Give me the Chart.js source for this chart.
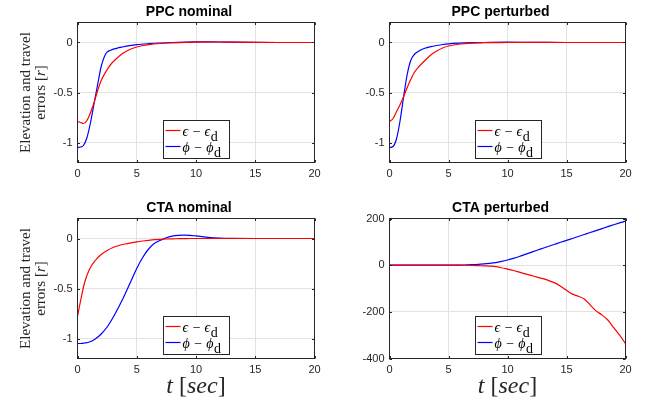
<!DOCTYPE html>
<html>
<head>
<meta charset="utf-8">
<script src="https://cdn.jsdelivr.net/npm/chart.js@4.4.1/dist/chart.umd.min.js"></script>
<style>
  html, body { margin: 0; padding: 0; background: #fff; }
  #wrap { position: relative; width: 647px; height: 405px; overflow: hidden; }
  #wrap canvas { position: absolute; left: 0; top: 0; }
</style>
</head>
<body>
<div id="wrap">
  <canvas id="ppcNom" width="647" height="405"></canvas>
  <canvas id="ppcPert" width="647" height="405"></canvas>
  <canvas id="ctaNom" width="647" height="405"></canvas>
  <canvas id="ctaPert" width="647" height="405"></canvas>
</div>
<script>
// tick values
const xTicks = [0, 5, 10, 15, 20];
const smallTicks = [-1, -0.5, 0];
const bigTicks = [-400, -200, 0, 200];

// PPC nominal
const tPpcNom = [0, 0.25, 0.5, 0.8, 1.1, 1.4, 1.7, 2.0, 2.4, 2.8, 3.3, 3.8, 4.4, 5, 6, 7, 8, 9, 10, 11, 12, 13, 15, 17, 20];
const epsPpcNom = [-0.79, -0.80, -0.81, -0.78, -0.70, -0.60, -0.48, -0.38, -0.29, -0.22, -0.16, -0.11, -0.07, -0.045, -0.022, -0.01, -0.004, 0, 0.004, 0.006, 0.005, 0.003, 0.001, 0, 0];
const phiPpcNom = [-1.05, -1.045, -1.03, -0.95, -0.80, -0.61, -0.42, -0.24, -0.11, -0.077, -0.058, -0.045, -0.032, -0.022, -0.012, -0.005, 0, 0.004, 0.006, 0.006, 0.005, 0.003, 0.001, 0, 0];

// PPC perturbed
const tPpcPert = [0, 0.3, 0.6, 0.9, 1.2, 1.5, 1.8, 2.1, 2.5, 3, 3.5, 4, 4.5, 5, 6, 7, 8, 10, 12, 15, 20];
const epsPpcPert = [-0.79, -0.76, -0.69, -0.62, -0.54, -0.45, -0.37, -0.30, -0.24, -0.18, -0.125, -0.085, -0.055, -0.035, -0.015, -0.006, -0.002, 0, 0.001, 0, 0];
const phiPpcPert = [-1.05, -1.04, -0.96, -0.78, -0.54, -0.32, -0.18, -0.12, -0.085, -0.058, -0.042, -0.03, -0.02, -0.013, -0.006, -0.002, 0, 0.003, 0.002, 0, 0];

// CTA nominal
const tCtaNom = [0, 0.3, 0.6, 1, 1.5, 2, 2.5, 3, 3.5, 4, 4.5, 5, 5.5, 6, 6.5, 7, 7.5, 8, 8.5, 9, 9.5, 10, 10.5, 11, 12, 13, 15, 20];
const epsCtaNom = [-0.78, -0.60, -0.44, -0.31, -0.22, -0.16, -0.12, -0.09, -0.07, -0.055, -0.043, -0.033, -0.025, -0.018, -0.012, -0.008, -0.005, -0.003, -0.002, -0.001, 0, 0, 0, 0, 0, 0, 0, 0];
const phiCtaNom = [-1.05, -1.05, -1.045, -1.035, -1.005, -0.955, -0.885, -0.79, -0.68, -0.56, -0.43, -0.30, -0.19, -0.105, -0.048, -0.018, 0.008, 0.023, 0.031, 0.034, 0.032, 0.026, 0.019, 0.012, 0.004, 0.001, 0, 0];

// CTA perturbed
const tCtaPert = [0, 2, 4, 5, 6, 6.5, 7, 7.5, 8, 8.5, 9, 9.5, 10, 10.5, 11, 11.5, 12, 12.5, 13, 13.5, 14, 14.5, 15, 15.5, 16, 16.5, 17, 17.5, 18, 18.5, 19, 19.5, 20];
const epsCtaPert = [0, 0, 0, 0, 0, -0.3, -1, -2, -3, -4, -6, -11, -17, -23, -30, -37, -44, -51, -58, -66, -76, -90, -108, -124, -133, -145, -170, -196, -213, -235, -268, -300, -336];
const phiCtaPert = [0, 0, 0, 0, 0.2, 1, 2, 3.5, 5.5, 8, 11, 16, 22, 29, 37, 46, 55, 64, 72.5, 81, 89.5, 98, 106, 114.5, 123, 131.5, 140, 148, 156.5, 165, 173, 181, 189];

const toPoints = (t, v) => t.map((x, i) => ({ x: x, y: v[i] }));

const ink = '#262626';

// draw a row of text pieces, some italic, centred on x
const drawParts = (ctx, parts, x, y, size) => {
    const fontOf = p => (p.it ? 'italic ' : '') + size + 'px "Liberation Serif", "DejaVu Serif", serif';
    let total = 0;
    parts.forEach(p => { ctx.font = fontOf(p); total += ctx.measureText(p.t).width; });
    let cx = x - total / 2;
    ctx.textAlign = 'left';
    parts.forEach(p => {
        ctx.font = fontOf(p);
        ctx.fillText(p.t, cx, y);
        cx += ctx.measureText(p.t).width;
    });
};

const decor = {
    id: 'decor',
    afterDraw(chart, args, o) {
        const { ctx, chartArea: a, scales } = chart;
        ctx.save();
        ctx.strokeStyle = ink;
        ctx.lineWidth = 1;
        ctx.strokeRect(a.left, a.top, a.right - a.left, a.bottom - a.top);

        // inward ticks on all four sides
        const tl = 2.5;
        ctx.beginPath();
        scales.x.ticks.forEach(tk => {
            const px = Math.round(scales.x.getPixelForValue(tk.value)) + 0.5;
            ctx.moveTo(px, a.bottom); ctx.lineTo(px, a.bottom - tl);
            ctx.moveTo(px, a.top); ctx.lineTo(px, a.top + tl);
        });
        scales.y.ticks.forEach(tk => {
            const py = Math.round(scales.y.getPixelForValue(tk.value)) + 0.5;
            ctx.moveTo(a.left, py); ctx.lineTo(a.left + tl, py);
            ctx.moveTo(a.right, py); ctx.lineTo(a.right - tl, py);
        });
        ctx.stroke();

        // title
        ctx.fillStyle = '#000';
        ctx.font = 'bold 14px "Liberation Sans", Arial, sans-serif';
        ctx.textAlign = 'center';
        ctx.textBaseline = 'alphabetic';
        ctx.fillText(o.title, (a.left + a.right) / 2 - 7, a.top - 6.5);

        // legend box
        const bx = a.left + 86, by = a.top + 98, bw = 66, bh = 38;
        ctx.fillStyle = '#fff';
        ctx.fillRect(bx, by, bw, bh);
        ctx.strokeStyle = ink;
        ctx.strokeRect(bx, by, bw, bh);
        const rows = [10, 26];
        chart.data.datasets.forEach((ds, i) => {
            const ly = by + rows[i];
            ctx.strokeStyle = ds.borderColor;
            ctx.lineWidth = 1.2;
            ctx.beginPath();
            ctx.moveTo(bx + 2, ly); ctx.lineTo(bx + 17, ly);
            ctx.stroke();
            const [main, sub] = ds.label.split('_');
            ctx.fillStyle = '#000';
            ctx.textAlign = 'left';
            ctx.font = 'italic 14px "Liberation Serif", "DejaVu Serif", serif';
            ctx.fillText(main, bx + 19, ly + 5);
            const w = ctx.measureText(main).width;
            ctx.font = '14px "Liberation Serif", "DejaVu Serif", serif';
            ctx.fillText(sub, bx + 19.5 + w, ly + 10);
        });

        ctx.fillStyle = ink;
        // y axis label, two rotated lines
        if (o.yLabel) {
            const cy = (a.top + a.bottom) / 2;
            o.yLabel.forEach((parts, i) => {
                ctx.save();
                ctx.translate(29.5 + i * 15.5, cy);
                ctx.rotate(-Math.PI / 2);
                drawParts(ctx, parts, 0, 0, 15);
                ctx.restore();
            });
        }
        // x axis label
        if (o.xLabel) {
            drawParts(ctx, o.xLabel, (a.left + a.right) / 2, a.bottom + 34, 24);
        }
        ctx.restore();
    }
};

const yLabelParts = [
    [{ t: 'Elevation and travel' }],
    [{ t: 'errors [' }, { t: 'r', it: true }, { t: ']' }]
];
const xLabelParts = [{ t: 't', it: true }, { t: ' [' }, { t: 'sec', it: true }, { t: ']' }];

const tickFont = { family: '"Liberation Sans", Arial, sans-serif', size: 11 };

const makePanel = (id, area, t, eps, phi, yMin, yMax, yTicks, title, yLabel, xLabel) => {
    const canvas = document.getElementById(id);
    return new Chart(canvas, {
        type: 'line',
        data: {
            datasets: [
                { label: 'ϵ − ϵ_d', data: toPoints(t, eps), borderColor: '#ff0000', borderWidth: 1.2, pointRadius: 0, fill: false, cubicInterpolationMode: 'monotone' },
                { label: 'ϕ − ϕ_d', data: toPoints(t, phi), borderColor: '#0000ff', borderWidth: 1.2, pointRadius: 0, fill: false, cubicInterpolationMode: 'monotone' }
            ]
        },
        plugins: [decor],
        options: {
            responsive: false,
            animation: false,
            events: [],
            layout: { padding: { left: 0, top: area.top, right: 647 - area.right, bottom: 0 } },
            scales: {
                x: {
                    type: 'linear', min: 0, max: 20,
                    afterBuildTicks: s => { s.ticks = xTicks.map(v => ({ value: v })); },
                    afterFit: s => { s.height = 405 - area.bottom; },
                    grid: { color: '#e2e2e2', drawTicks: false },
                    border: { display: false },
                    ticks: { font: tickFont, color: ink, padding: 5, maxRotation: 0, autoSkip: false, callback: v => String(v) }
                },
                y: {
                    type: 'linear', min: yMin, max: yMax,
                    afterBuildTicks: s => { s.ticks = yTicks.map(v => ({ value: v })); },
                    afterFit: s => { s.width = area.left; },
                    grid: { color: '#e2e2e2', drawTicks: false },
                    border: { display: false },
                    ticks: { font: tickFont, color: ink, padding: 5, autoSkip: false, callback: v => String(v) }
                }
            },
            plugins: {
                legend: { display: false },
                tooltip: { enabled: false },
                decor: { title: title, yLabel: yLabel, xLabel: xLabel }
            }
        }
    });
};

makePanel('ppcNom', { left: 77.5, top: 22.5, right: 314.5, bottom: 162.5 }, tPpcNom, epsPpcNom, phiPpcNom, -1.2, 0.2, smallTicks, 'PPC nominal', yLabelParts, null);
makePanel('ppcPert', { left: 389.5, top: 22.5, right: 625.5, bottom: 162.5 }, tPpcPert, epsPpcPert, phiPpcPert, -1.2, 0.2, smallTicks, 'PPC perturbed', null, null);
makePanel('ctaNom', { left: 77.5, top: 218.5, right: 314.5, bottom: 358.5 }, tCtaNom, epsCtaNom, phiCtaNom, -1.2, 0.2, smallTicks, 'CTA nominal', yLabelParts, xLabelParts);
makePanel('ctaPert', { left: 389.5, top: 218.5, right: 625.5, bottom: 358.5 }, tCtaPert, epsCtaPert, phiCtaPert, -400, 200, bigTicks, 'CTA perturbed', null, xLabelParts);
</script>
</body>
</html>
